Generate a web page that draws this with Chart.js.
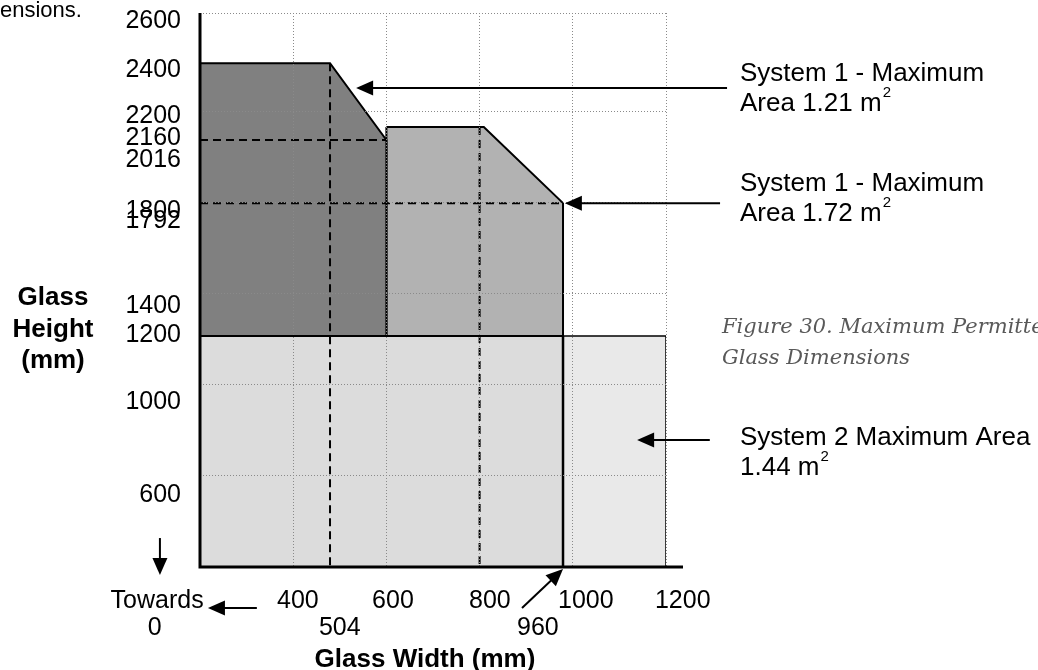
<!DOCTYPE html>
<html>
<head>
<meta charset="utf-8">
<script src="https://cdn.jsdelivr.net/npm/chart.js@4.4.0/dist/chart.umd.min.js"></script>
<style>
html, body { margin: 0; padding: 0; background: #fff; }
canvas { display: block; }
</style>
</head>
<body>
<canvas id="glass" width="1038" height="670"></canvas>
<script>
// values (the drawing is a schematic, so these are "drawing units")
// System 1 - max area 1.21 m2 (dark)
const sys1SmallX = [200, 479, 600, 600, 200, 200];
const sys1SmallY = [2410, 2410, 2073, 1213, 1213, 2410];
// System 1 - max area 1.72 m2 (mid grey)
const sys1LargeX = [600, 809, 979, 979, 600, 600];
const sys1LargeY = [2130, 2130, 1796, 1213, 1213, 2130];
// System 2 - max area 1.44 m2
const sys2X = [200, 1200, 1200, 200, 200];
const sys2Y = [1213, 1213, 200, 200, 1213];
// part of the system 2 box that is inside the system 1 width
const sys2InnerX = [200, 979, 979, 200];
const sys2InnerY = [1213, 1213, 200, 200];
const edge960X = [979, 979];
const edge960Y = [1213, 200];

// dashed guide lines
const dash504X = [479, 479], dash504Y = [2410, 200];
const dash800X = [800, 800], dash800Y = [2130, 200];
const dash2160X = [200, 600], dash2160Y = [2073, 2073];
const dash1800X = [200, 979], dash1800Y = [1796, 1796];

// grid
const xGrid = [200, 400, 600, 800, 1000, 1200];
const yGrid = [200, 600, 1000, 1400, 1800, 2200, 2630];

// tick labels and where they sit on the axes
const yTickText = ['2600', '2400', '2200', '2160', '2016', '1800', '1792', '1400', '1200', '1000', '600'];
const yTickAt = [2595, 2380, 2178, 2082, 1985, 1761, 1718, 1345, 1218, 924, 516];
const xTickText = ['Towards', '400', '600', '800', '1000', '1200'];
const xTickAt = [108, 410, 614, 822, 1028, 1236];
const xTick2Text = ['0', '504', '960'];
const xTick2At = [103, 500, 925];

function pts(xs, ys) {
    return xs.map((x, i) => ({x: x, y: ys[i]}));
}

function shape(xs, ys, fillColor, order, lineW) {
    return {
        data: pts(xs, ys),
        backgroundColor: fillColor,
        borderColor: lineW ? '#000' : 'rgba(0,0,0,0)',
        borderWidth: lineW || 0,
        fill: 'shape',
        pointRadius: 0,
        tension: 0,
        order: order
    };
}

function dashed(xs, ys) {
    return {
        data: pts(xs, ys),
        borderColor: '#000',
        borderWidth: 2,
        borderDash: [8, 5],
        fill: false,
        pointRadius: 0,
        order: 1
    };
}

const SANS = '"Liberation Sans", Arial, sans-serif';

const arrows = [
    {from: [1331, 2301], to: [535, 2301]},
    {from: [1316, 1796], to: [983, 1796]},
    {from: [1294, 757], to: [1138, 757]},
    {from: [322, 20], to: [217, 20]},
    {from: [114, 327], to: [114, 165]},
    {from: [891, 20], to: [979, 191]}
];

function drawArrow(ctx, x1, y1, x2, y2) {
    const a = Math.atan2(y2 - y1, x2 - x1);
    const len = 17, half = 7.5;
    ctx.beginPath();
    ctx.moveTo(x1, y1);
    ctx.lineTo(x2 - Math.cos(a) * len * 0.8, y2 - Math.sin(a) * len * 0.8);
    ctx.stroke();
    ctx.beginPath();
    ctx.moveTo(x2, y2);
    ctx.lineTo(x2 - Math.cos(a) * len - Math.sin(a) * half, y2 - Math.sin(a) * len + Math.cos(a) * half);
    ctx.lineTo(x2 - Math.cos(a) * len + Math.sin(a) * half, y2 - Math.sin(a) * len - Math.cos(a) * half);
    ctx.closePath();
    ctx.fill();
}

function textSup(ctx, str, sup, x, y) {
    ctx.textAlign = 'left';
    ctx.fillText(str, x, y);
    const w = ctx.measureText(str).width;
    const f = ctx.font;
    ctx.font = '15px ' + SANS;
    ctx.fillText(sup, x + w + 1, y - 11);
    ctx.font = f;
}

const extras = {
    id: 'extras',
    afterDraw(chart) {
        const ctx = chart.ctx;
        const xs = chart.scales.x, ys = chart.scales.y;
        const area = chart.chartArea;
        ctx.save();
        ctx.fillStyle = '#000';
        ctx.strokeStyle = '#000';

        // axes
        ctx.lineWidth = 3;
        ctx.beginPath();
        ctx.moveTo(area.left, area.top);
        ctx.lineTo(area.left, area.bottom);
        ctx.lineTo(area.right + 17, area.bottom);
        ctx.stroke();

        // tick labels
        ctx.font = '25px ' + SANS;
        ctx.textBaseline = 'middle';
        ctx.textAlign = 'right';
        yTickText.forEach((t, i) => ctx.fillText(t, area.left - 19, ys.getPixelForValue(yTickAt[i])));
        ctx.textAlign = 'center';
        xTickText.forEach((t, i) => ctx.fillText(t, xs.getPixelForValue(xTickAt[i]), area.bottom + 34));
        xTick2Text.forEach((t, i) => ctx.fillText(t, xs.getPixelForValue(xTick2At[i]), area.bottom + 61));

        // axis titles
        ctx.font = 'bold 26px ' + SANS;
        ctx.fillText('Glass', 53, 298);
        ctx.fillText('Height', 53, 330);
        ctx.fillText('(mm)', 53, 361);
        ctx.fillText('Glass Width (mm)', 425, 660);

        // arrows
        ctx.lineWidth = 2;
        arrows.forEach(a => drawArrow(ctx,
            xs.getPixelForValue(a.from[0]), ys.getPixelForValue(a.from[1]),
            xs.getPixelForValue(a.to[0]), ys.getPixelForValue(a.to[1])));

        // notes
        ctx.font = '26px ' + SANS;
        ctx.textAlign = 'left';
        ctx.fillText('System 1 - Maximum', 740, 74);
        textSup(ctx, 'Area 1.21 m', '2', 740, 104);
        ctx.fillText('System 1 - Maximum', 740, 184);
        textSup(ctx, 'Area 1.72 m', '2', 740, 214);
        ctx.fillText('System 2 Maximum Area', 740, 438);
        textSup(ctx, '1.44 m', '2', 740, 468);

        // caption
        ctx.fillStyle = '#595959';
        ctx.font = 'italic 21px "DejaVu Serif", serif';
        ctx.fillText('Figure 30. Maximum Permitted', 722, 328);
        ctx.fillText('Glass Dimensions', 722, 359);

        // cut-off text at the top left
        ctx.fillStyle = '#000';
        ctx.font = '22px ' + SANS;
        ctx.textBaseline = 'alphabetic';
        ctx.fillText('ensions.', 0, 17);
        ctx.restore();
    }
};

new Chart(document.getElementById('glass'), {
    type: 'line',
    data: {
        datasets: [
            shape(sys2X, sys2Y, '#e9e9e9', 7, 1.5),
            shape(sys2InnerX, sys2InnerY, '#dcdcdc', 6, 0),
            {data: pts(edge960X, edge960Y), borderColor: '#000', borderWidth: 2.5, pointRadius: 0, fill: false, order: 5},
            shape(sys1LargeX, sys1LargeY, '#b2b2b2', 4, 2),
            shape(sys1SmallX, sys1SmallY, '#808080', 3, 2),
            dashed(dash504X, dash504Y),
            dashed(dash800X, dash800Y),
            dashed(dash2160X, dash2160Y),
            dashed(dash1800X, dash1800Y)
        ]
    },
    options: {
        responsive: false,
        animation: false,
        layout: {padding: {left: 200, right: 372, top: 13, bottom: 103}},
        plugins: {legend: {display: false}, tooltip: {enabled: false}},
        scales: {
            x: {
                type: 'linear', min: 200, max: 1200,
                afterBuildTicks: s => { s.ticks = xGrid.map(v => ({value: v})); },
                ticks: {display: false},
                grid: {color: '#8a8a8a', lineWidth: 1, drawTicks: false, z: 1},
                border: {display: false, dash: [1, 2]}
            },
            y: {
                type: 'linear', min: 200, max: 2630,
                afterBuildTicks: s => { s.ticks = yGrid.map(v => ({value: v})); },
                ticks: {display: false},
                grid: {color: '#8a8a8a', lineWidth: 1, drawTicks: false, z: 1},
                border: {display: false, dash: [1, 2]}
            }
        }
    },
    plugins: [extras]
});
</script>
</body>
</html>
